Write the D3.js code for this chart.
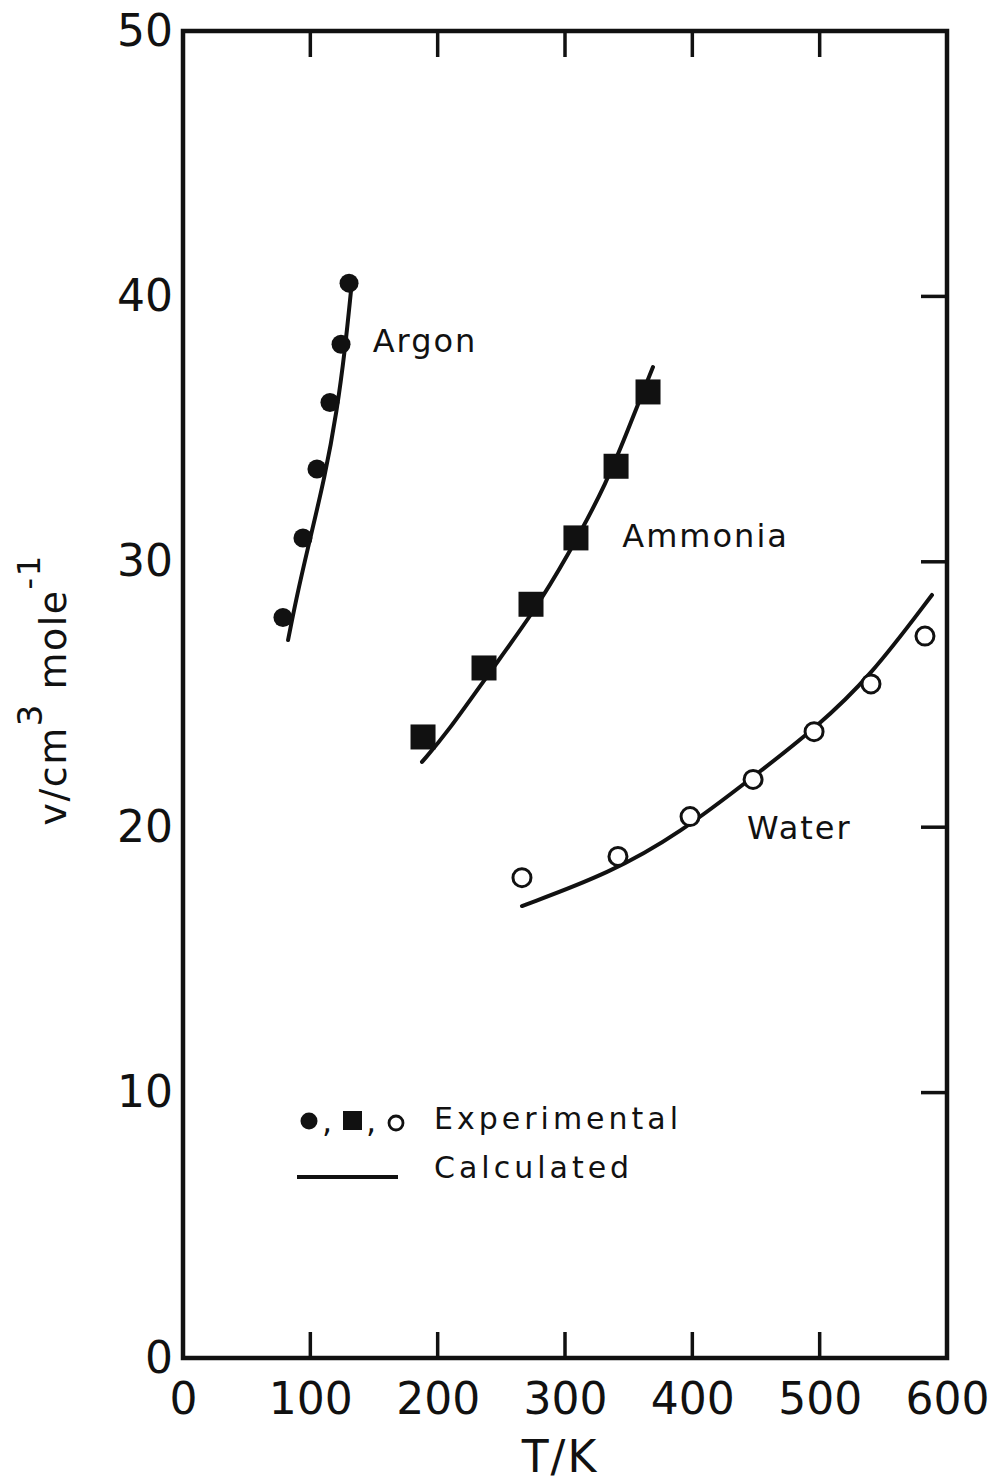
<!DOCTYPE html>
<html><head><meta charset="utf-8">
<script src="https://cdn.jsdelivr.net/npm/d3@7"></script>
<style>body{margin:0;background:#fff}svg{display:block}text{font-family:"DejaVu Sans",sans-serif;fill:#111}</style>
</head><body>
<script>
// ---- data ----
const xTicks = [0,100,200,300,400,500,600];
const yTicks = [0,10,20,30,40,50];
const argonExp = [[78.5,27.9],[94.2,30.9],[105.2,33.5],[115.4,36.0],[124.1,38.2],[130.4,40.5]];
const ammoniaExp = [[188.5,23.4],[236.4,26.0],[273.3,28.4],[308.6,30.9],[340.1,33.6],[365.2,36.4]];
const waterExp = [[266.2,18.1],[341.6,18.9],[398.2,20.4],[447.7,21.8],[495.6,23.6],[540.3,25.4],[582.7,27.2]];
const argonCalc = [[82.5,27.05],[88.7,28.56],[98.2,30.56],[111.5,33.2],[121.0,35.72],[127.2,37.98],[132.0,40.24]];
const ammoniaCalc = [[187.7,22.46],[207.3,23.55],[241.1,25.85],[274.9,28.07],[301.6,30.18],[333.0,32.97],[353.4,35.46],[369.1,37.34]];
const waterCalc = [[266.2,17.03],[335.4,18.27],[390.3,19.78],[447.7,21.89],[497.9,23.78],[539.5,25.66],[588.2,28.75]];
const seriesLabels = [["Argon",149,37.9],["Ammonia",345,30.56],["Water",443,19.56]];

const W=996,H=1481, m={l:183,t:31,r:49,b:123};
const svg=d3.select("body").append("svg").attr("width",W).attr("height",H);
const x=d3.scaleLinear().domain([0,600]).range([m.l,W-m.r]);
const y=d3.scaleLinear().domain([0,50]).range([H-m.b,m.t]);
const ink="#111";

// frame
svg.append("rect").attr("x",x(0)).attr("y",y(50)).attr("width",x(600)-x(0)).attr("height",y(0)-y(50))
  .attr("fill","none").attr("stroke",ink).attr("stroke-width",4.5);

// axes with inward ticks
const tl=26;
const bottom=svg.append("g").attr("transform",`translate(0,${y(0)})`)
  .call(d3.axisBottom(x).tickValues(xTicks).tickSize(0).tickPadding(16));
bottom.select(".domain").remove();
bottom.selectAll("text").attr("font-size",44).attr("dy","0.9em").attr("font-family","DejaVu Sans").attr("fill",ink);
const left=svg.append("g").attr("transform",`translate(${x(0)},0)`)
  .call(d3.axisLeft(y).tickValues(yTicks).tickSize(0).tickPadding(10));
left.select(".domain").remove();
left.selectAll("text").attr("font-size",44).attr("font-family","DejaVu Sans").attr("fill",ink);

const inner=xTicks.filter(d=>d>0&&d<600);
svg.append("g").selectAll("line.tb").data(inner).join("line")
  .attr("x1",d=>x(d)).attr("x2",d=>x(d)).attr("y1",y(0)).attr("y2",y(0)-tl)
  .attr("stroke",ink).attr("stroke-width",3.5);
svg.append("g").selectAll("line.tt").data(inner).join("line")
  .attr("x1",d=>x(d)).attr("x2",d=>x(d)).attr("y1",y(50)).attr("y2",y(50)+tl)
  .attr("stroke",ink).attr("stroke-width",3.5);
const innerY=yTicks.filter(d=>d>0&&d<50);
svg.append("g").selectAll("line.tr").data(innerY).join("line")
  .attr("x1",x(600)).attr("x2",x(600)-tl).attr("y1",d=>y(d)).attr("y2",d=>y(d))
  .attr("stroke",ink).attr("stroke-width",3.5);

// axis titles
svg.append("text").attr("x",(x(0)+x(600))/2-5).attr("y",1472).attr("text-anchor","middle")
  .attr("font-size",44).attr("letter-spacing",2).text("T/K");
const yt=svg.append("text").attr("transform",`translate(66,${690}) rotate(-90)`).attr("text-anchor","middle")
  .attr("font-size",38).attr("letter-spacing",1.5);
yt.append("tspan").text("v/cm");
yt.append("tspan").attr("font-size",34).attr("dy",-24).text("3");
yt.append("tspan").attr("dy",24).text(" mole");
yt.append("tspan").attr("font-size",32).attr("dy",-26).text("-1");

// calculated curves
const line=d3.line().x(d=>x(d[0])).y(d=>y(d[1])).curve(d3.curveBasis);
[argonCalc,ammoniaCalc,waterCalc].forEach(c=>{
  svg.append("path").datum(c).attr("d",line).attr("fill","none").attr("stroke",ink)
    .attr("stroke-width",4).attr("stroke-linecap","round");
});

// experimental points
svg.append("g").selectAll("circle").data(argonExp).join("circle")
  .attr("cx",d=>x(d[0])).attr("cy",d=>y(d[1])).attr("r",9.5).attr("fill",ink);
const sq=25;
svg.append("g").selectAll("rect").data(ammoniaExp).join("rect")
  .attr("x",d=>x(d[0])-sq/2).attr("y",d=>y(d[1])-sq/2).attr("width",sq).attr("height",sq).attr("fill",ink);
svg.append("g").selectAll("circle").data(waterExp).join("circle")
  .attr("cx",d=>x(d[0])).attr("cy",d=>y(d[1])).attr("r",9).attr("fill","#fff")
  .attr("stroke",ink).attr("stroke-width",3);

// series labels
svg.append("g").selectAll("text").data(seriesLabels).join("text")
  .attr("x",d=>x(d[1])).attr("y",d=>y(d[2])).attr("font-size",32).attr("letter-spacing",2).text(d=>d[0]);

// legend
const lg=svg.append("g");
lg.append("circle").attr("cx",309).attr("cy",1121).attr("r",8.5).attr("fill",ink);
lg.append("text").attr("x",322).attr("y",1132).attr("font-size",32).text(",");
lg.append("rect").attr("x",343).attr("y",1111).attr("width",19).attr("height",19).attr("fill",ink);
lg.append("text").attr("x",366).attr("y",1132).attr("font-size",32).text(",");
lg.append("circle").attr("cx",396).attr("cy",1123).attr("r",7).attr("fill","none").attr("stroke",ink).attr("stroke-width",2.8);
lg.append("text").attr("x",434).attr("y",1129).attr("font-size",30).attr("letter-spacing",4).text("Experimental");
lg.append("line").attr("x1",297).attr("x2",398).attr("y1",1177).attr("y2",1177).attr("stroke",ink).attr("stroke-width",4);
lg.append("text").attr("x",434).attr("y",1178).attr("font-size",30).attr("letter-spacing",4).text("Calculated");
</script>
</body></html>
